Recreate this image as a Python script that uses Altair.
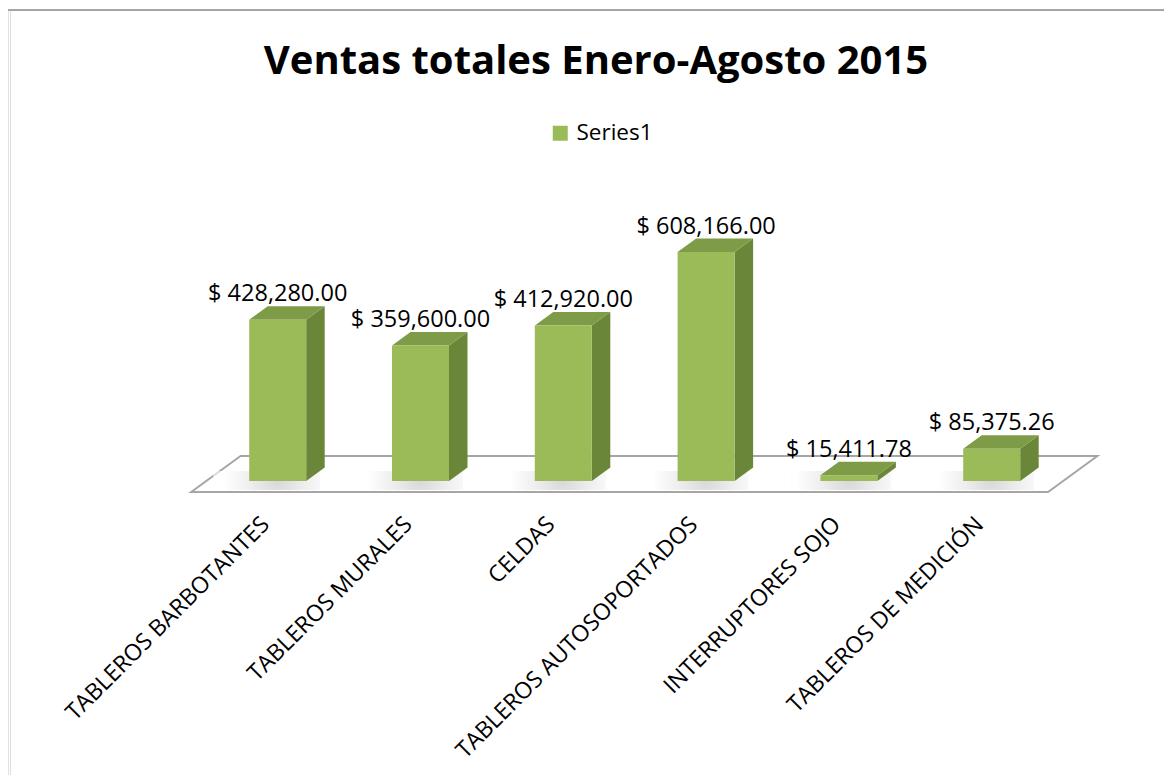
import altair as alt
import pandas as pd

# ---------------- data ----------------
categories = [
    "TABLEROS BARBOTANTES",
    "TABLEROS MURALES",
    "CELDAS",
    "TABLEROS AUTOSOPORTADOS",
    "INTERRUPTORES SOJO",
    "TABLEROS DE MEDICIÓN",
]
values = [428280.00, 359600.00, 412920.00, 608166.00, 15411.78, 85375.26]
series_name = "Series1"
title_text = "Ventas totales Enero-Agosto 2015"

# ---------------- layout constants ----------------
W, H = 1154, 765          # plot area (the whole chart frame)
X0 = 267.7                # px of first category centre
STEP = 142.8              # px between categories
BASE = 471                # px of the zero line from top
PX_PER_UNIT = 229 / 608166.0
U = 1.0 / PX_PER_UNIT     # value units per px
HALF = 28.5 / STEP        # half bar width (index units)
DXP, DYP = 18.5, 13.5     # 3D depth offset of bars in px
SLOPE = DXP / DYP
DXI = DXP / STEP
DYV = DYP * U

FRONT = "#9BBB59"
SIDE = "#6A8639"
TOP = "#7E9C48"
FONT = "Open Sans"

x_scale = alt.Scale(domain=[-X0 / STEP, (W - X0) / STEP], nice=False, zero=False)
y_scale = alt.Scale(domain=[-(H - BASE) * U, BASE * U], nice=False, zero=False)

idx = list(range(len(categories)))

front_df = pd.DataFrame({
    "cat": categories,
    "x1": [i - HALF for i in idx],
    "x2": [i + HALF for i in idx],
    "y1": [0.0] * len(idx),
    "y2": values,
    "series": [series_name] * len(idx),
})

side_rows, top_rows = [], []
for i, c, v in zip(idx, categories, values):
    side_rows += [
        {"cat": c, "x": i + HALF, "y": 0.0, "y2": v},
        {"cat": c, "x": i + HALF + DXI, "y": DYV, "y2": v + DYV},
    ]
    top_rows += [
        {"cat": c, "x": i - HALF, "y": v, "y2": v},
        {"cat": c, "x": i - HALF + DXI, "y": v, "y2": v + DYV},
        {"cat": c, "x": i + HALF, "y": v, "y2": v + DYV},
        {"cat": c, "x": i + HALF + DXI, "y": v + DYV, "y2": v + DYV},
    ]
side_df = pd.DataFrame(side_rows)
top_df = pd.DataFrame(top_rows)

# soft shadow patch on the floor around each bar foot
shadow_df = pd.DataFrame({
    "cat": categories,
    "x1": [i - HALF - 36.0 / STEP for i in idx],
    "x2": [i + HALF + 14.0 / STEP for i in idx],
    "y1": [-9.0 * U] * len(idx),
    "y2": [10.0 * U] * len(idx),
})

# floor parallelogram (depth from 11px in front to 25px behind the bars)
f_front, f_back = -11.0, 25.0
floor_df = pd.DataFrame({
    "y": [f_front * U, f_back * U],
    "x": [-0.5 + f_front * SLOPE / STEP, -0.5 + f_back * SLOPE / STEP],
    "x2": [len(idx) - 0.5 + f_front * SLOPE / STEP, len(idx) - 0.5 + f_back * SLOPE / STEP],
})

label_df = pd.DataFrame({
    "cat": categories,
    "x": idx,
    "y": [v + DYV for v in values],
    "label": [f"$ {v:,.2f}" for v in values],
})

cat_df = pd.DataFrame({
    "cat": categories,
    "x": [i - 12.0 / STEP for i in idx],
    "y": [-40.0 * U] * len(idx),
})

X = lambda f: alt.X(f, type="quantitative", scale=x_scale, axis=None)
Y = lambda f: alt.Y(f, type="quantitative", scale=y_scale, axis=None)

floor = alt.Chart(floor_df).mark_area(
    orient="horizontal", fill="white", stroke="#A6A6A6", strokeWidth=2
).encode(y=Y("y"), x=X("x"), x2="x2")

shadow = alt.Chart(shadow_df).mark_rect(
    color={
        "gradient": "radial",
        "x1": 0.6, "y1": 0.5, "x2": 0.6, "y2": 0.5, "r1": 0, "r2": 0.5,
        "stops": [
            {"offset": 0, "color": "#BDBDBD"},
            {"offset": 0.5, "color": "#E2E2E2"},
            {"offset": 1, "color": "#FFFFFF"},
        ],
    },
    opacity=0.6,
).encode(x=X("x1"), x2="x2", y=Y("y1"), y2="y2")

side = alt.Chart(side_df).mark_area(color=SIDE, orient="vertical").encode(
    x=X("x"), y=Y("y"), y2="y2", detail="cat:N"
)
top = alt.Chart(top_df).mark_area(color=TOP, orient="vertical").encode(
    x=X("x"), y=Y("y"), y2="y2", detail="cat:N"
)
front = alt.Chart(front_df).mark_rect().encode(
    x=X("x1"), x2="x2", y=Y("y1"), y2="y2",
    color=alt.Color(
        "series:N",
        scale=alt.Scale(domain=[series_name], range=[FRONT]),
        legend=alt.Legend(
            orient="none", legendX=539, legendY=112, title=None,
            symbolType="square", symbolSize=225, symbolStrokeWidth=0,
            symbolOpacity=1, labelFontSize=22.5, labelFont=FONT,
            labelColor="black", labelOffset=5, padding=0,
        ),
    ),
)

values_txt = alt.Chart(label_df).mark_text(
    font=FONT, fontSize=23.5, color="black", align="center",
    baseline="alphabetic", dy=-5,
).encode(x=X("x"), y=Y("y"), text="label:N")

cats_txt = alt.Chart(cat_df).mark_text(
    font=FONT, fontSize=23, color="black", align="right",
    baseline="middle", angle=315,
).encode(x=X("x"), y=Y("y"), text="cat:N")

border_top = alt.Chart(pd.DataFrame({"a": [0]})).mark_rule(
    color="#8C8C8C", strokeWidth=1.5
).encode(x=alt.value(-3.5), x2=alt.value(W + 10), y=alt.value(0))
border_left = alt.Chart(pd.DataFrame({"a": [0]})).mark_rule(
    color="#8C8C8C", strokeWidth=1.5
).encode(x=alt.value(-2.5), y=alt.value(0), y2=alt.value(H + 10))

chart = alt.layer(
    floor, shadow, side, top, front, values_txt, cats_txt, border_top, border_left
).properties(
    width=W,
    height=H,
    autosize=alt.AutoSizeParams(type="none"),
    padding={"left": 2, "top": 2, "right": 0, "bottom": 0},
    title=alt.TitleParams(
        title_text, font=FONT, fontSize=40, fontWeight="bold",
        color="black", anchor="middle", offset=-105, baseline="alphabetic",
        dx=9,
    ),
).configure_view(stroke=None).configure(background="white")

chart.save("out.html", embed_options={"renderer": "svg", "actions": False})
